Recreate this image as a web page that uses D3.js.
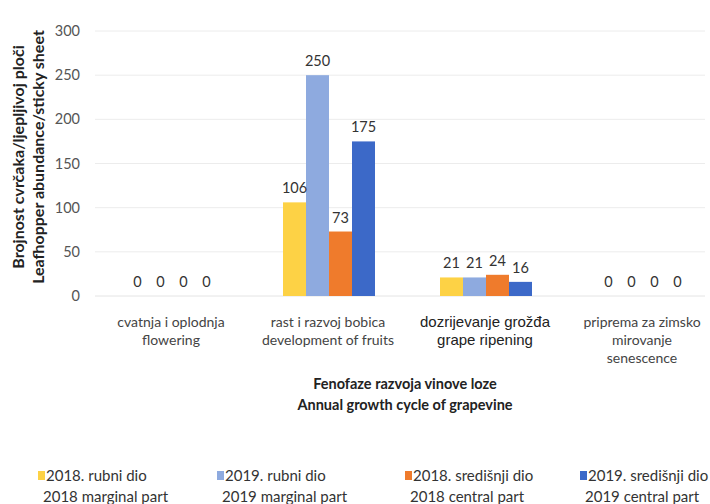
<!DOCTYPE html>
<html><head><meta charset="utf-8">
<script src="https://cdn.jsdelivr.net/npm/d3@7"></script>
<style>body{margin:0;background:#fff;} svg{display:block;}</style>
</head><body>
<script>
const categories = [["cvatnja i oplodnja","flowering"],["rast i razvoj bobica","development of fruits"],["dozrijevanje grožđa","grape ripening"],["priprema za zimsko","mirovanje","senescence"]];
const seriesNames = [["2018. rubni dio","2018 marginal part"],["2019. rubni dio","2019 marginal part"],["2018. središnji dio","2018 central part"],["2019. središnji dio","2019 central part"]];
const s2018rubni = [0,106,21,0];
const s2019rubni = [0,250,21,0];
const s2018sred = [0,73,24,0];
const s2019sred = [0,175,16,0];
const yTicks = [0,50,100,150,200,250,300];
const colors = ["#FDD245","#8EAADF","#EF7B2C","#3C69C8"];
const values = [s2018rubni,s2019rubni,s2018sred,s2019sred];

const W=710,H=504;
const svg=d3.select("body").append("svg").attr("width",W).attr("height",H);
const font="Lato, 'Open Sans', sans-serif";
const y=d3.scaleLinear().domain([0,300]).range([296,31]);
const x0=d3.scaleBand().domain(d3.range(4)).range([93.5,721.5]).paddingInner(0).paddingOuter(0);
const x1=d3.scaleBand().domain(d3.range(4)).range([0,92]);
const gOff=(x0.bandwidth()-92)/2;

// gridlines
svg.append("g").selectAll("line").data(yTicks.filter(d=>d>0)).join("line")
 .attr("x1",95).attr("x2",705).attr("y1",d=>y(d)).attr("y2",d=>y(d))
 .attr("stroke","#ececec").attr("stroke-width",1);
svg.append("line").attr("x1",95).attr("x2",705).attr("y1",y(0)).attr("y2",y(0)).attr("stroke","#e4e4e4");

// y axis
const ya=svg.append("g").attr("transform","translate(80,0)").call(d3.axisLeft(y).tickValues(yTicks).tickSize(0).tickPadding(0));
ya.select(".domain").remove();
ya.selectAll("text").attr("font-family",font).attr("font-size",14.5).attr("fill","#555");

// bars
const groups=svg.append("g").selectAll("g").data(d3.range(4)).join("g")
 .attr("transform",i=>`translate(${x0(i)+gOff},0)`);
groups.selectAll("rect").data(i=>values.map((v,s)=>({s,v:v[i]}))).join("rect")
 .attr("x",d=>x1(d.s)).attr("width",x1.bandwidth())
 .attr("y",d=>y(d.v)).attr("height",d=>y(0)-y(d.v)).attr("fill",d=>colors[d.s]);
groups.selectAll("text").data(i=>values.map((v,s)=>({s,v:v[i]}))).join("text")
 .attr("x",d=>x1(d.s)+x1.bandwidth()/2).attr("y",d=>y(d.v)-9)
 .attr("text-anchor","middle").attr("font-family",font).attr("font-size",14.5).attr("fill","#333")
 .text(d=>d.v);

// category labels
const cl=svg.append("g").selectAll("text").data(categories).join("text")
 .attr("x",(d,i)=>x0(i)+x0.bandwidth()/2-1).attr("y",327)
 .attr("text-anchor","middle").attr("font-family",(d,i)=>i===2?"'Liberation Sans', Arial, sans-serif":font)
 .attr("font-size",(d,i)=>i===2?15:14).attr("fill",(d,i)=>i===2?"#222":"#444");
cl.selectAll("tspan").data(d=>d).join("tspan").attr("x",function(){return this.parentNode.getAttribute("x");})
 .attr("dy",(d,j)=>j===0?0:18).text(d=>d);

// x title
svg.append("text").attr("x",405).attr("y",389).attr("text-anchor","middle").attr("font-family",font)
 .attr("font-weight","bold").attr("font-size",14.5).attr("fill","#222")
 .selectAll("tspan").data(["Fenofaze razvoja vinove loze","Annual growth cycle of grapevine"]).join("tspan")
 .attr("x",405).attr("dy",(d,j)=>j?21:0).text(d=>d);

// y title
svg.append("text").attr("transform","translate(24,157) rotate(-90)").attr("text-anchor","middle")
 .attr("font-family",font).attr("font-weight","bold").attr("font-size",16).attr("fill","#222")
 .selectAll("tspan").data(["Brojnost cvrčaka/ljepljivoj ploči","Leafhopper abundance/sticky sheet"]).join("tspan")
 .attr("x",0).attr("dy",(d,j)=>j?20:0).text(d=>d);

// legend
const lx=[38,217,405,580];
const lg=svg.append("g").selectAll("g").data(seriesNames).join("g").attr("transform",(d,i)=>`translate(${lx[i]},0)`);
lg.append("rect").attr("x",0).attr("y",471).attr("width",7).attr("height",9).attr("fill",(d,i)=>colors[i]);
lg.append("text").attr("font-family",font).attr("font-size",15).attr("fill","#333")
 .selectAll("tspan").data(d=>d).join("tspan").attr("x",(d,j)=>j?5:8).attr("y",(d,j)=>j?502:481).text(d=>d);
</script>
</body></html>
